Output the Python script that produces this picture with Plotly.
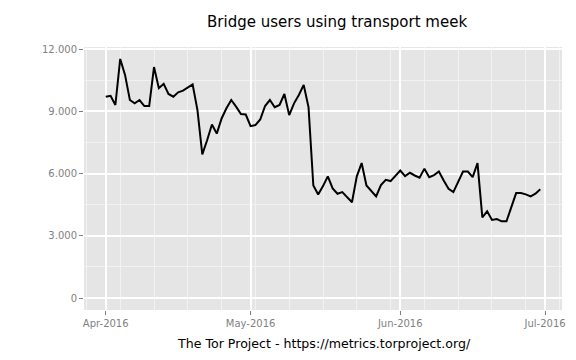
import plotly.graph_objects as go
import pandas as pd

start_date = "2016-04-01"
end_date = "2016-06-30"
users = [
    # April
    9710, 9750, 9310, 11530, 10760, 9550, 9390, 9550, 9260, 9260,
    11140, 10120, 10330, 9840, 9710, 9920, 10000, 10170, 10300, 9060,
    6930, 7610, 8370, 7930, 8660, 9150, 9550, 9230, 8870, 8850,
    # May
    8290, 8340, 8610, 9260, 9550, 9200, 9310, 9840, 8820, 9390,
    9790, 10280, 9200, 5430, 4990, 5400, 5870, 5290, 5030, 5110,
    4860, 4620, 5870, 6510, 5430, 5170, 4900, 5450, 5700, 5640, 5880,
    # June
    6150, 5880, 6040, 5910, 5800, 6240, 5830, 5930, 6100, 5670,
    5270, 5110, 5590, 6100, 6100, 5830, 6510, 3890, 4180, 3770,
    3810, 3700, 3700, 4380, 5060, 5060, 5000, 4900, 5030, 5250,
]
y_ticks = [0, 3000, 6000, 9000, 12000]
x_ticks = ["2016-04-01", "2016-05-01", "2016-06-01", "2016-07-01"]
x_tick_labels = ["Apr-2016", "May-2016", "Jun-2016", "Jul-2016"]
title_text = "Bridge users using transport meek"
caption_text = "The Tor Project - https://metrics.torproject.org/"

dates = pd.date_range(start_date, end_date, freq="D")

FONT = "DejaVu Sans"
fig = go.Figure()
fig.add_trace(go.Scatter(
    x=dates, y=users, mode="lines",
    line=dict(color="black", width=2),
    hoverinfo="skip", showlegend=False,
))

# page body has an 8px margin, so margins are offset accordingly
fig.update_layout(
    width=576, height=360,
    margin=dict(l=76, r=22, t=39, b=58),
    paper_bgcolor="white",
    plot_bgcolor="#E5E5E5",
    separators=",.",
    font=dict(family=FONT, color="#7F7F7F", size=10),
    showlegend=False,
    annotations=[
        dict(text=title_text, xref="paper", yref="paper", x=0.529, y=1.095,
             xanchor="center", yanchor="middle", showarrow=False,
             font=dict(family=FONT, size=15, color="black")),
        dict(text=caption_text, xref="paper", yref="paper", x=0.502, y=-0.129,
             xanchor="center", yanchor="middle", showarrow=False,
             font=dict(family=FONT, size=12.6, color="black")),
    ],
)

fig.update_xaxes(
    type="date",
    range=["2016-03-27 12:00", "2016-07-04 12:00"],
    tickvals=x_ticks, ticktext=x_tick_labels,
    ticks="outside", ticklen=4, tickcolor="#7F7F7F", tickwidth=1,
    showgrid=True, gridcolor="white", gridwidth=1.5,
    minor=dict(dtick=7 * 86400000, tick0="2016-04-04", showgrid=True,
               gridcolor="#F2F2F2", gridwidth=1),
    zeroline=False, showline=False,
    tickfont=dict(family=FONT, size=10, color="#7F7F7F"),
)
fig.update_yaxes(
    range=[-576, 12106],
    tickvals=y_ticks, tickformat=",d",
    ticks="outside", ticklen=4, tickcolor="#7F7F7F", tickwidth=1,
    showgrid=True, gridcolor="white", gridwidth=1.5,
    minor=dict(dtick=1500, tick0=0, showgrid=True,
               gridcolor="#F2F2F2", gridwidth=1),
    zeroline=False, showline=False,
    tickfont=dict(family=FONT, size=10, color="#7F7F7F"),
)

fig.write_html("out.html")
